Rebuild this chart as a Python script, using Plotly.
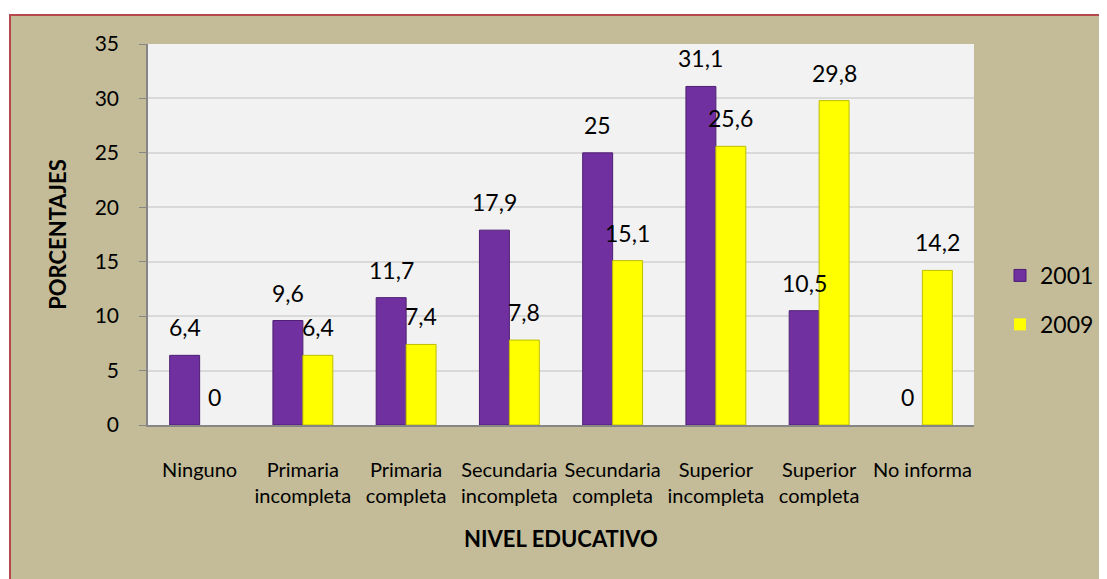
import plotly.graph_objects as go

niveles = ["Ninguno", "Primaria<br>incompleta", "Primaria<br>completa", "Secundaria<br>incompleta",
           "Secundaria<br>completa", "Superior<br>incompleta", "Superior<br>completa", "No informa"]
v2001 = [6.4, 9.6, 11.7, 17.9, 25, 31.1, 10.5, 0]
v2009 = [0, 6.4, 7.4, 7.8, 15.1, 25.6, 29.8, 14.2]

# la página tiene 8px de margen, por eso la figura es un poco más pequeña
W, H = 1099, 571
L, R, T, B = 140, 133, 36, 154
pw, ph = W - L - R, H - T - B

FONT = "Lato, 'Open Sans', Arial, sans-serif"
BARGAP = 0.42
off = (1 - BARGAP) / 4


def fmt(v):
    return f"{v:g}".replace(".", ",")


fig = go.Figure()
series = [
    ("2001", v2001, "#7030A0", "#4E1F73", -off),
    ("2009", v2009, "#FFFF00", "#BDBD00", off),
]
for name, vals, color, edge, dx in series:
    fig.add_trace(go.Bar(x=niveles, y=vals, name=name, legendgroup=name,
        marker=dict(color=color, line=dict(color=edge, width=[0 if v == 0 else 1 for v in vals]))))
    for i, v in enumerate(vals):
        fig.add_annotation(x=i + dx, y=v, xref="x", yref="y", text=fmt(v), showarrow=False,
            yanchor="bottom", yshift=12, font=dict(size=23, color="#000000"))

# fondo del área del gráfico con marco rojo (fuera de él la página es blanca)
fig.add_shape(type="rect", xref="paper", yref="paper",
    x0=(2 - L) / pw, x1=(W + 20 - L) / pw,
    y0=-(B + 20) / ph, y1=1 + (T - 7) / ph,
    fillcolor="#C4BC98", line=dict(color="#B5484A", width=2), layer="below")
# fondo del área de trazado
fig.add_shape(type="rect", xref="paper", yref="paper", x0=0, x1=1, y0=0, y1=1,
    fillcolor="#F2F2F2", line=dict(width=0), layer="below")

fig.update_layout(
    width=W, height=H,
    paper_bgcolor="#FFFFFF", plot_bgcolor="#F2F2F2",
    font=dict(family=FONT, color="#000000"),
    margin=dict(l=L, r=R, t=T, b=B, autoexpand=False),
    barmode="group", bargap=BARGAP, bargroupgap=0,
    showlegend=True,
    legend=dict(x=(992 - L) / pw, y=(T + ph - 292) / ph, xanchor="left", yanchor="middle",
        font=dict(size=23), bgcolor="rgba(0,0,0,0)", itemwidth=30, tracegroupgap=16),
    xaxis=dict(tickfont=dict(size=20), showline=True, linecolor="#868686", linewidth=1.5,
        title=dict(text="<b>NIVEL EDUCATIVO</b>", font=dict(size=22), standoff=26),
        ticks="", tickangle=0, ticklabelstandoff=26),
    yaxis=dict(range=[0, 35], dtick=5, tickfont=dict(size=21), showline=True,
        linecolor="#868686", linewidth=1.5, ticks="outside", ticklen=7, tickcolor="#868686",
        gridcolor="#D9D9D9", gridwidth=1.5, zeroline=False, ticklabelstandoff=16,
        title=dict(text="<b>PORCENTAJES</b>", font=dict(size=22), standoff=22)),
)

fig.write_html("out.html")
